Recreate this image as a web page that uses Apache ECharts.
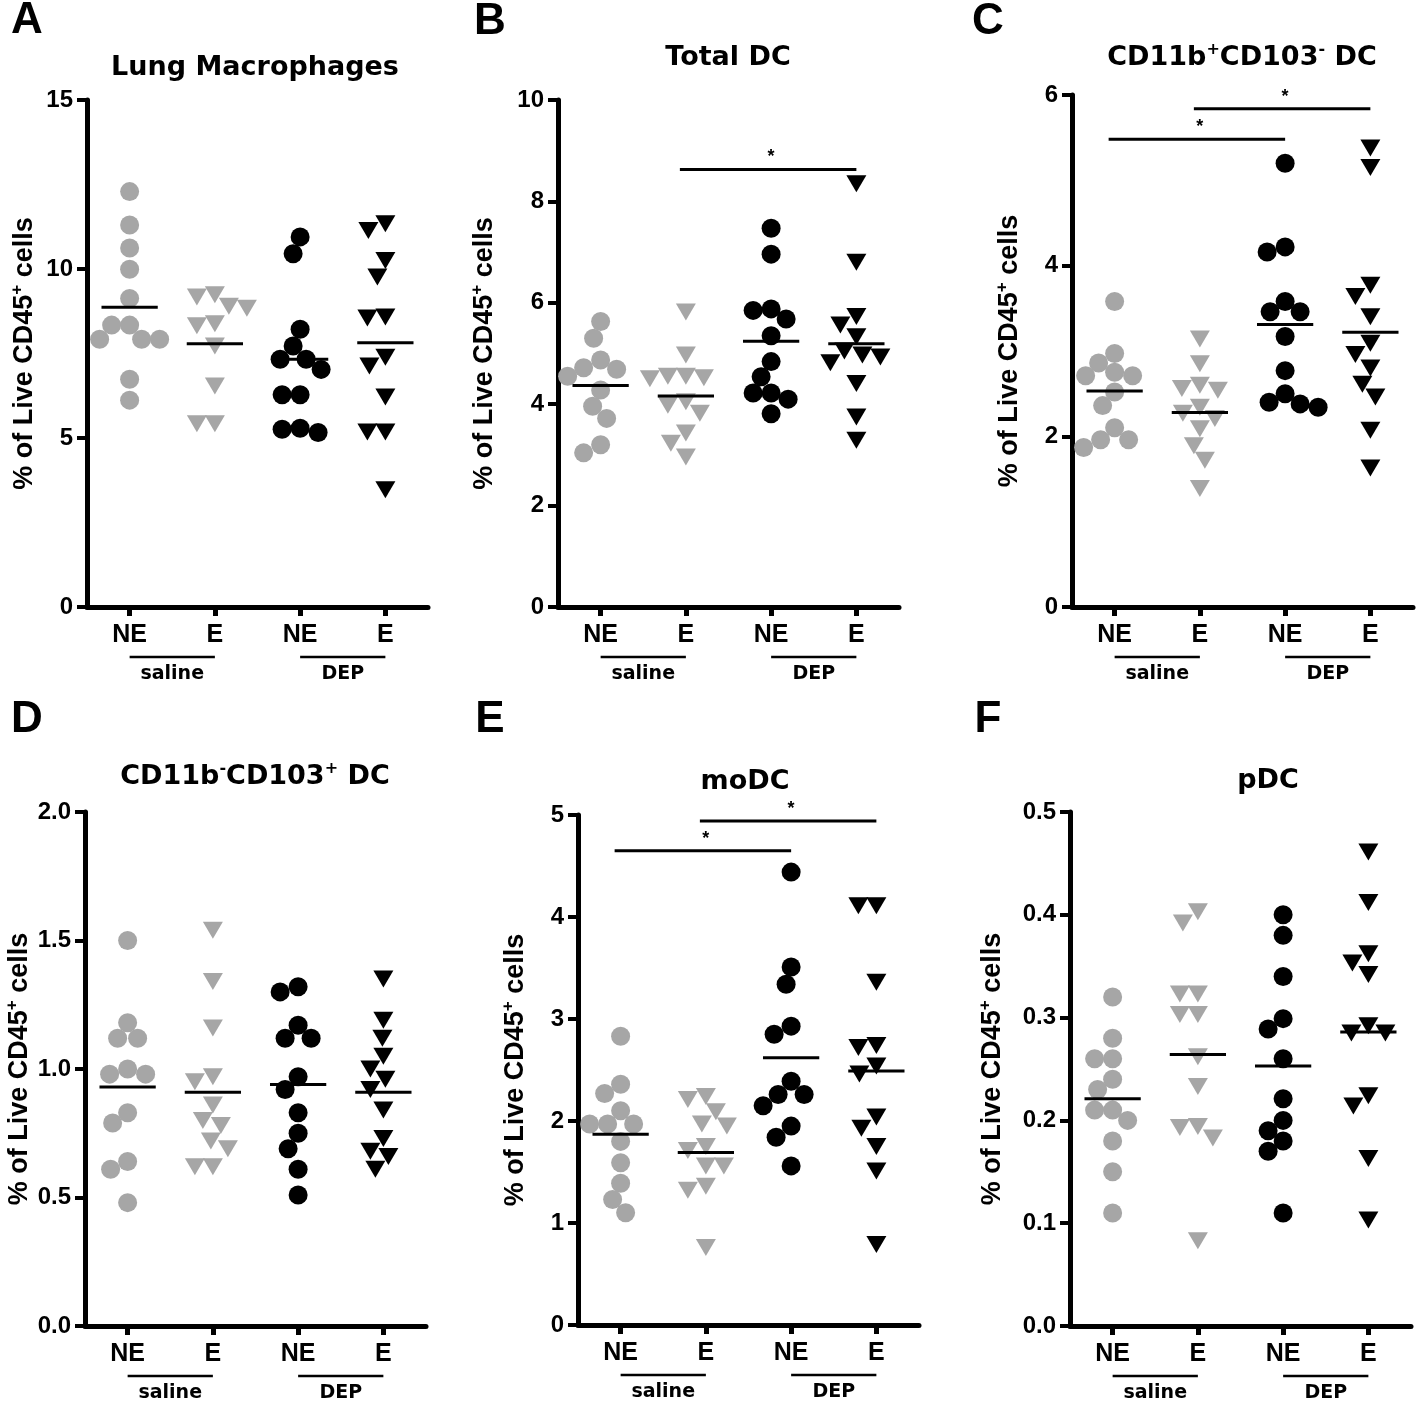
<!DOCTYPE html>
<html>
<head>
<meta charset="utf-8">
<script src="https://cdn.jsdelivr.net/npm/echarts@6/dist/echarts.min.js"></script>
<style>
  html, body { margin: 0; padding: 0; background: #fff; }
  #main { width: 1418px; height: 1402px; }
</style>
</head>
<body>
<div id="main"></div>
<script>
var catLabels = ['NE', 'E', 'NE', 'E'];
var treatLabels = ['saline', 'DEP'];
var treatSpans = [[0, 1], [2, 3]];

// A - Lung Macrophages
var macSalNE = [12.29, 11.30, 10.62, 9.99, 9.13, 8.34, 8.34, 7.92, 7.92, 7.92, 6.74, 6.12];
var macSalE = [9.24, 9.17, 8.9, 8.84, 8.38, 8.32, 7.72, 6.54, 5.42, 5.42];
var macDepNE = [10.95, 10.45, 8.22, 7.72, 7.33, 7.33, 7.03, 6.28, 6.28, 5.16, 5.29, 5.26];
var macDepE = [11.34, 11.14, 10.25, 9.76, 8.58, 8.55, 7.39, 7.13, 6.21, 5.18, 5.18, 3.47];
var macMeans = [8.87, 7.79, 7.33, 7.82];

// B - Total DC
var dcSalNE = [5.63, 5.30, 4.87, 4.72, 4.69, 4.55, 4.28, 3.96, 3.72, 3.2, 3.04];
var dcSalE = [5.82, 4.97, 4.55, 4.55, 4.52, 4.5, 4.05, 3.98, 3.82, 3.43, 3.23, 2.96];
var dcDepNE = [7.47, 6.96, 5.88, 5.85, 5.68, 5.35, 4.84, 4.54, 4.22, 4.22, 4.1, 3.81];
var dcDepE = [8.35, 6.8, 5.73, 5.56, 5.33, 5.05, 4.97, 4.93, 4.82, 4.41, 3.75, 3.29];
var dcMeans = [4.37, 4.16, 5.24, 5.19];
var dcSig = [[1, 3, 8.63]];

// C - CD11b+CD103- DC
var cd11bSalNE = [3.58, 2.97, 2.86, 2.75, 2.71, 2.71, 2.52, 2.36, 2.10, 1.96, 1.96, 1.87];
var cd11bSalE = [3.14, 2.85, 2.6, 2.56, 2.54, 2.34, 2.27, 2.21, 2.09, 1.89, 1.72, 1.39];
var cd11bDepNE = [5.2, 4.22, 4.16, 3.58, 3.46, 3.46, 3.17, 2.77, 2.5, 2.40, 2.38, 2.34];
var cd11bDepE = [5.38, 5.15, 3.77, 3.64, 3.4, 3.09, 2.96, 2.8, 2.61, 2.46, 2.07, 1.63];
var cd11bMeans = [2.53, 2.28, 3.31, 3.22];
var cd11bSig = [[0, 2, 5.48], [1, 3, 5.84]];

// D - CD11b-CD103+ DC
var cd103SalNE = [1.5, 1.18, 1.12, 1.12, 1.0, 0.98, 0.98, 0.83, 0.79, 0.64, 0.61, 0.48];
var cd103SalE = [1.54, 1.34, 1.16, 0.97, 0.95, 0.86, 0.8, 0.78, 0.72, 0.69, 0.62, 0.62];
var cd103DepNE = [1.32, 1.3, 1.17, 1.12, 1.12, 0.97, 0.92, 0.83, 0.75, 0.69, 0.61, 0.51];
var cd103DepE = [1.35, 1.19, 1.12, 1.05, 1.0, 0.96, 0.92, 0.84, 0.73, 0.68, 0.66, 0.61];
var cd103Means = [0.93, 0.91, 0.94, 0.91];

// E - moDC
var moSalNE = [2.83, 2.36, 2.27, 2.1, 1.97, 1.97, 1.97, 1.8, 1.59, 1.39, 1.23, 1.1];
var moSalE = [2.24, 2.21, 2.09, 1.97, 1.95, 1.75, 1.71, 1.56, 1.56, 1.36, 1.32, 0.76];
var moDepNE = [4.44, 3.51, 3.34, 2.93, 2.85, 2.39, 2.26, 2.26, 2.15, 1.95, 1.84, 1.56];
var moDepE = [4.11, 4.11, 3.36, 2.74, 2.72, 2.54, 2.46, 2.04, 1.93, 1.75, 1.51, 0.79];
var moMeans = [1.87, 1.69, 2.62, 2.49];
var moSig = [[0, 2, 4.65], [1, 3, 4.94]];

// F - pDC
var pSalNE = [0.32, 0.28, 0.26, 0.26, 0.24, 0.23, 0.21, 0.21, 0.2, 0.18, 0.15, 0.11];
var pSalE = [0.403, 0.392, 0.323, 0.323, 0.303, 0.303, 0.262, 0.233, 0.194, 0.193, 0.183, 0.083];
var pDepNE = [0.40, 0.38, 0.34, 0.299, 0.289, 0.26, 0.221, 0.2, 0.19, 0.18, 0.17, 0.11];
var pDepE = [0.461, 0.412, 0.362, 0.353, 0.342, 0.292, 0.285, 0.285, 0.224, 0.214, 0.163, 0.103];
var pMeans = [0.221, 0.264, 0.253, 0.286];

var panels = [
    { letter: 'A', title: '{t|Lung Macrophages}', max: 15, interval: 5, digits: 0,
      sets: [macSalNE, macSalE, macDepNE, macDepE], means: macMeans, sig: [],
      grid: { left: 87, top: 100, width: 341, height: 507 }, nameGap: 46, titleAt: [255, 68], letterAt: [27, 21] },
    { letter: 'B', title: '{t|Total DC}', max: 10, interval: 2, digits: 0,
      sets: [dcSalNE, dcSalE, dcDepNE, dcDepE], means: dcMeans, sig: dcSig,
      grid: { left: 558, top: 100, width: 341, height: 507 }, nameGap: 57, titleAt: [728, 58], letterAt: [490, 22] },
    { letter: 'C', title: '{t|CD11b}{s|+}{t|CD103}{s|-}{t| DC}', max: 6, interval: 2, digits: 0,
      sets: [cd11bSalNE, cd11bSalE, cd11bDepNE, cd11bDepE], means: cd11bMeans, sig: cd11bSig,
      grid: { left: 1072, top: 95, width: 341, height: 512 }, nameGap: 46, titleAt: [1242, 58], letterAt: [988, 22] },
    { letter: 'D', title: '{t|CD11b}{s|-}{t|CD103}{s|+}{t| DC}', max: 2, interval: 0.5, digits: 1,
      sets: [cd103SalNE, cd103SalE, cd103DepNE, cd103DepE], means: cd103Means, sig: [],
      grid: { left: 85, top: 812, width: 341, height: 514 }, nameGap: 49, titleAt: [255, 777], letterAt: [27, 720] },
    { letter: 'E', title: '{t|moDC}', max: 5, interval: 1, digits: 0,
      sets: [moSalNE, moSalE, moDepNE, moDepE], means: moMeans, sig: moSig,
      grid: { left: 578, top: 815, width: 341, height: 510 }, nameGap: 46, titleAt: [745, 782], letterAt: [490, 720] },
    { letter: 'F', title: '{t|pDC}', max: 0.5, interval: 0.1, digits: 1,
      sets: [pSalNE, pSalE, pDepNE, pDepE], means: pMeans, sig: [],
      grid: { left: 1070, top: 812, width: 341, height: 514 }, nameGap: 61, titleAt: [1268, 781], letterAt: [988, 720] }
];

var grey = '#a6a6a6';
var black = '#000';
var labelFont = '"Liberation Sans", Arial, sans-serif';
var titleFont = '"DejaVu Sans", Verdana, sans-serif';

// simple beeswarm: returns horizontal offsets in px
function swarm(values, pxPerUnit, diam) {
    var order = values.map(function (v, i) { return i; })
        .sort(function (a, b) { return values[b] - values[a]; });
    var placed = [];
    var offs = [];
    order.forEach(function (i) {
        var y = values[i] * pxPerUnit;
        var best = 0;
        for (var k = 0; k < 200; k++) {
            var dx = (k % 2 === 1 ? -1 : 1) * Math.ceil(k / 2);
            var ok = placed.every(function (p) {
                var a = p[0] - dx, b = p[1] - y;
                return a * a + b * b >= diam * diam;
            });
            if (ok) { best = dx; break; }
        }
        placed.push([best, y]);
        offs[i] = best;
    });
    return offs;
}

var grids = [], xAxes = [], yAxes = [], series = [], graphics = [];

panels.forEach(function (p, pi) {
    grids.push({ left: p.grid.left, top: p.grid.top, width: p.grid.width, height: p.grid.height,
        containLabel: false, outerBoundsMode: 'none' });

    xAxes.push({
        type: 'value', gridIndex: pi, min: -0.5, max: 3.5,
        axisLine: { show: true, onZero: false, lineStyle: { color: black, width: 5 } },
        axisTick: { show: true, customValues: [0, 1, 2, 3], length: 9, lineStyle: { color: black, width: 5 } },
        axisLabel: { customValues: [0, 1, 2, 3], formatter: function (v) { return catLabels[v]; },
            fontSize: 25, fontWeight: 'bold', fontFamily: labelFont, color: black, margin: 16 },
        splitLine: { show: false }
    });

    yAxes.push({
        type: 'value', gridIndex: pi, min: 0, max: p.max, interval: p.interval,
        axisLine: { show: true, onZero: false, lineStyle: { color: black, width: 5 } },
        axisTick: { show: true, length: 10, lineStyle: { color: black, width: 4 } },
        axisLabel: { fontSize: 24, fontWeight: 'bold', fontFamily: labelFont, color: black, margin: 14,
            formatter: function (v) { return v.toFixed(p.digits); } },
        splitLine: { show: false },
        name: '{n|% of Live CD45}{s|+}{n| cells}',
        nameLocation: 'middle', nameRotate: 90, nameGap: p.nameGap,
        nameTextStyle: {
            rich: {
                n: { fontSize: 27, fontWeight: 'bold', fontFamily: labelFont, color: black, lineHeight: 32 },
                s: { fontSize: 17, fontWeight: 'bold', fontFamily: labelFont, color: black, verticalAlign: 'top' }
            }
        }
    });

    var pxY = p.grid.height / p.max;
    var pxX = p.grid.width / 4;
    p.sets.forEach(function (vals, gi) {
        var offs = swarm(vals, pxY, 18);
        var isTri = gi % 2 === 1;
        series.push({
            type: 'scatter', xAxisIndex: pi, yAxisIndex: pi,
            symbol: isTri ? 'triangle' : 'circle',
            symbolRotate: isTri ? 180 : 0,
            symbolSize: isTri ? [20, 17] : 19,
            itemStyle: { color: gi < 2 ? grey : black, opacity: 1 },
            z: 2,
            data: vals.map(function (v, j) { return [gi + offs[j] / pxX, v]; })
        });
    });

    // mean lines
    series.push({
        type: 'custom', xAxisIndex: pi, yAxisIndex: pi, z: 5,
        data: p.means.map(function (m, i) { return [i, m]; }),
        renderItem: function (params, api) {
            var c = api.coord([api.value(0), api.value(1)]);
            var half = api.size([0.33, 0])[0];
            return { type: 'line', shape: { x1: c[0] - half, y1: c[1], x2: c[0] + half, y2: c[1] },
                style: { stroke: black, lineWidth: 3 } };
        }
    });

    // significance bars
    if (p.sig.length) {
        series.push({
            type: 'custom', xAxisIndex: pi, yAxisIndex: pi, z: 5,
            encode: { x: [0, 1], y: 2 },
            data: p.sig,
            renderItem: function (params, api) {
                var a = api.coord([api.value(0), api.value(2)]);
                var b = api.coord([api.value(1), api.value(2)]);
                return { type: 'group', children: [
                    { type: 'line', shape: { x1: a[0] - 6, y1: a[1], x2: b[0], y2: b[1] },
                      style: { stroke: black, lineWidth: 3 } },
                    { type: 'text', style: { text: '*', x: (a[0] + b[0]) / 2, y: a[1] - 3,
                      align: 'center', verticalAlign: 'bottom', fill: black,
                      font: 'bold 18px ' + labelFont } }
                ] };
            }
        });
    }

    // treatment underlines + labels below axis
    series.push({
        type: 'custom', xAxisIndex: pi, yAxisIndex: pi, z: 5, clip: false,
        encode: { x: [0, 1] },
        data: treatSpans.map(function (s) { return [s[0], s[1]]; }),
        renderItem: function (params, api) {
            var a = api.coord([api.value(0), 0]);
            var b = api.coord([api.value(1), 0]);
            return { type: 'group', children: [
                { type: 'line', shape: { x1: a[0], y1: a[1] + 50, x2: b[0], y2: a[1] + 50 },
                  style: { stroke: black, lineWidth: 2.5 } },
                { type: 'text', style: { text: treatLabels[params.dataIndex], x: (a[0] + b[0]) / 2, y: a[1] + 67,
                  align: 'center', verticalAlign: 'middle', fill: black,
                  font: 'bold 19px ' + titleFont } }
            ] };
        }
    });

    graphics.push({
        type: 'text', x: p.titleAt[0], y: p.titleAt[1],
        style: { text: p.title, align: 'center', verticalAlign: 'middle',
            rich: {
                t: { fontSize: 27, fontWeight: 'bold', fontFamily: titleFont, fill: black, lineHeight: 32 },
                s: { fontSize: 16, fontWeight: 'bold', fontFamily: titleFont, fill: black, verticalAlign: 'top' }
            } }
    });
    graphics.push({
        type: 'text', x: p.letterAt[0], y: p.letterAt[1],
        style: { text: p.letter, align: 'center', verticalAlign: 'middle', fill: black,
            font: 'bold 44px ' + labelFont }
    });
});

var chart = echarts.init(document.getElementById('main'));
chart.setOption({
    animation: false,
    backgroundColor: '#fff',
    grid: grids,
    xAxis: xAxes,
    yAxis: yAxes,
    series: series,
    graphic: graphics
});
</script>
</body>
</html>
